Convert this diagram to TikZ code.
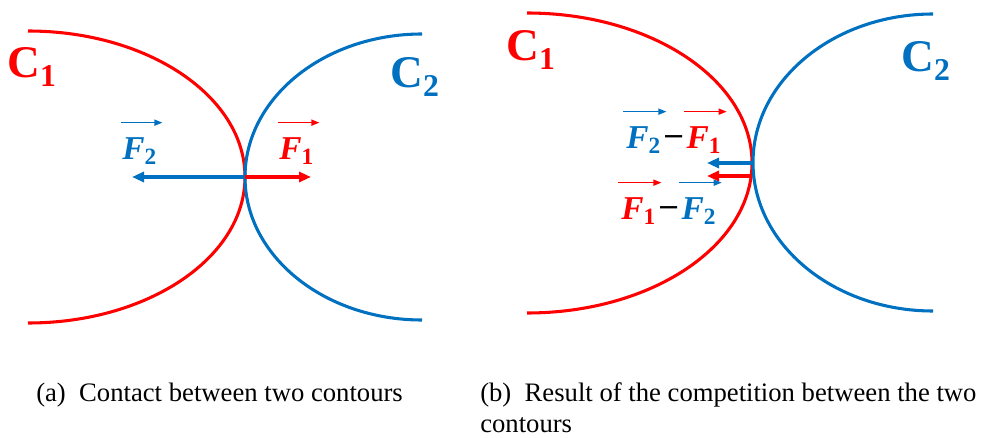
\documentclass[tikz,border=0pt]{standalone}
\usepackage{fontspec}
\setmainfont{Liberation Serif}
\usepackage{tikz}
\usetikzlibrary{arrows.meta,positioning,calc}

\definecolor{cred}{RGB}{255,0,0}
\definecolor{cblue}{RGB}{0,112,192}
\newcommand{\Fv}[1]{{\bfseries\itshape F}\textsubscript{\bfseries #1}}
\newcommand{\Cv}[1]{{\bfseries C}\textsubscript{\bfseries #1}}

\begin{document}
\begin{tikzpicture}[
  x=0.75pt, y=-0.75pt,
  contour/.style={line width=2.3pt},
  force/.style={-{Triangle[length=9pt, width=7.5pt]}, line width=2.3pt},
  vecarr/.style={-{Triangle[length=6pt, width=4.5pt]}, line width=1.1pt},
  flabel/.style={font=\fontsize{25}{27}\selectfont, inner sep=0pt},
  minus/.style={font=\fontsize{25}{27}\selectfont\bfseries, inner sep=0pt},
  clabel/.style={font=\fontsize{34}{36}\selectfont, inner sep=0pt},
  caption/.style={font=\fontsize{20}{22}\selectfont, inner sep=0pt, anchor=base west},
  node distance=3pt
]
\useasboundingbox (0,0) rectangle (984,438);

% (a) contact between the two contours
\draw[contour, cred] (28,31) arc[start angle=-90, end angle=90, x radius=217, y radius=146];
\draw[contour, cblue] (422,34) arc[start angle=-90, end angle=-270, x radius=177, y radius=143];
\coordinate (ca) at (245,177);
\coordinate (f2end) at (132,177);
\coordinate (f1end) at (311,177);
\draw[force, cblue] (ca) -- (f2end);
\draw[force, cred] (ca) -- (f1end);

\node[clabel, text=cred] (c1a) at (32,67) {\Cv{1}};
\node[clabel, text=cblue] (c2a) at (415,77) {\Cv{2}};
\node[flabel, text=cblue, anchor=west] (f2a) at (122,151) {\Fv{2}};
\node[flabel, text=cred, anchor=west] (f1a) at (279,151) {\Fv{1}};
\draw[vecarr, cblue] ([xshift=-1pt, yshift=11pt]f2a.north west) -- ([xshift=4pt, yshift=11pt]f2a.north east);
\draw[vecarr, cred] ([xshift=-1pt, yshift=11pt]f1a.north west) -- ([xshift=4pt, yshift=11pt]f1a.north east);

% (b) result of the competition
\draw[contour, cred] (527,13) arc[start angle=-90, end angle=90, x radius=225, y radius=150];
\draw[contour, cblue] (933,14) arc[start angle=-90, end angle=-270, x radius=180, y radius=148.5];
\coordinate (cb1) at (753,163);
\coordinate (cb2) at (751,176);
\coordinate (d1end) at (707,163);
\coordinate (d2end) at (707,176);
\draw[force, cblue] (cb1) -- (d1end);
\draw[force, cred] (cb2) -- (d2end);

\node[clabel, text=cred] (c1b) at (531,50) {\Cv{1}};
\node[clabel, text=cblue] (c2b) at (926,61) {\Cv{2}};

\node[flabel, text=cblue, anchor=west] (f2b) at (626,140) {\Fv{2}};
\node[minus, right=of f2b] (mb) {--};
\node[flabel, text=cred, right=of mb] (f1b) {\Fv{1}};
\draw[vecarr, cblue] ([xshift=-2pt, yshift=11pt]f2b.north west) -- ([xshift=4pt, yshift=11pt]f2b.north east);
\draw[vecarr, cred] ([xshift=-2pt, yshift=11pt]f1b.north west) -- ([xshift=4pt, yshift=11pt]f1b.north east);

\node[flabel, text=cred, anchor=west] (f1c) at (621,211) {\Fv{1}};
\node[minus, right=of f1c] (mc) {--};
\node[flabel, text=cblue, right=of mc] (f2c) {\Fv{2}};
\draw[vecarr, cred] ([xshift=-2pt, yshift=11pt]f1c.north west) -- ([xshift=4pt, yshift=11pt]f1c.north east);
\draw[vecarr, cblue] ([xshift=-2pt, yshift=11pt]f2c.north west) -- ([xshift=4pt, yshift=11pt]f2c.north east);

% captions
\node[caption] (capa) at (36,401) {(a)\enspace Contact between two contours};
\node[caption] (capb) at (480,401) {(b)\enspace Result of the competition between the two};
\node[caption] (capb2) at (480,432) {contours};
\end{tikzpicture}
\end{document}
